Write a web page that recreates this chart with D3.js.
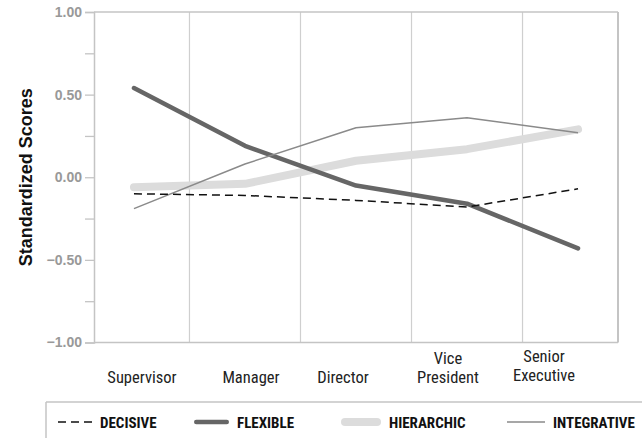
<!DOCTYPE html>
<html>
<head>
<meta charset="utf-8">
<script src="https://cdn.jsdelivr.net/npm/d3@7"></script>
<style>
  html, body { margin: 0; padding: 0; background: #fff; }
  svg { display: block; }
  .cat { font-family: "Liberation Sans Narrow", "Roboto Condensed", "DejaVu Sans Condensed", sans-serif; font-size: 16.5px; fill: #222; }
  .tick-label { font-family: "Liberation Sans", Arial, sans-serif; font-weight: bold; font-size: 14px; fill: #999; }
  .ytitle { font-family: "Liberation Sans", Arial, sans-serif; font-weight: bold; font-size: 18px; fill: #111; }
  .leg { font-family: "Liberation Sans Narrow", "Roboto Condensed", "DejaVu Sans Condensed", sans-serif; font-weight: bold; font-size: 15px; fill: #111; }
</style>
</head>
<body>
<svg id="chart" width="642" height="438"></svg>
<script>
// Career levels and standardized scores for each decision style
const categories = ["Supervisor", "Manager", "Director", "Vice President", "Senior Executive"];
const decisive    = [-0.10, -0.11, -0.14, -0.18, -0.07];
const flexible    = [ 0.54,  0.19, -0.05, -0.16, -0.43];
const hierarchic  = [-0.06, -0.04,  0.10,  0.17,  0.29];
const integrative = [-0.19,  0.08,  0.30,  0.36,  0.27];
const yTicks = [-1, -0.5, 0, 0.5, 1];
const yMinorTicks = [-0.75, -0.25, 0.25, 0.75];
const seriesNames = ["DECISIVE", "FLEXIBLE", "HIERARCHIC", "INTEGRATIVE"];

const svg = d3.select("#chart");
const plot = { left: 94, right: 618, top: 12, bottom: 342.5 };

const x = d3.scalePoint().domain(categories).range([plot.left, plot.right]).padding(0.36);
const y = d3.scaleLinear().domain([-1, 1]).range([plot.bottom, plot.top]);

const frameColor = "#c4c4c4";

// Vertical separators halfway between career levels
const step = x.step();
const seps = categories.slice(1).map(c => x(c) - step / 2);
svg.append("g").selectAll("line").data(seps).join("line")
  .attr("x1", d => d).attr("x2", d => d)
  .attr("y1", plot.top).attr("y2", plot.bottom)
  .attr("stroke", "#cfcfcf").attr("stroke-width", 1.2);

// Frame: top, bottom, right
svg.append("line").attr("x1", plot.left).attr("x2", plot.right).attr("y1", plot.top).attr("y2", plot.top)
  .attr("stroke", frameColor).attr("stroke-width", 1.5);
svg.append("line").attr("x1", plot.left).attr("x2", plot.right).attr("y1", plot.bottom).attr("y2", plot.bottom)
  .attr("stroke", frameColor).attr("stroke-width", 1.5);
svg.append("line").attr("x1", plot.right).attr("x2", plot.right).attr("y1", plot.top).attr("y2", plot.bottom)
  .attr("stroke", frameColor).attr("stroke-width", 2);

// Y axis with major and minor ticks
const fmt = v => (v < 0 ? "\u2212" : "") + Math.abs(v).toFixed(2);
const yAxis = d3.axisLeft(y).tickValues(yTicks).tickSize(9).tickPadding(3).tickFormat(fmt);
const gy = svg.append("g").attr("transform", `translate(${plot.left},0)`).call(yAxis);
gy.attr("font-size", null).attr("font-family", null);
gy.select(".domain").attr("stroke", frameColor).attr("stroke-width", 1.5);
gy.selectAll(".tick line").attr("stroke", frameColor).attr("stroke-width", 1.3);
gy.selectAll(".tick text").attr("class", "tick-label").attr("fill", null);
const gyMinor = svg.append("g").attr("transform", `translate(${plot.left},0)`)
  .call(d3.axisLeft(y).tickValues(yMinorTicks).tickSize(9).tickFormat(""));
gyMinor.select(".domain").remove();
gyMinor.selectAll(".tick line").attr("stroke", frameColor).attr("stroke-width", 1.3);

// Y axis title
svg.append("text").attr("class", "ytitle")
  .attr("transform", `translate(32,${(plot.top + plot.bottom) / 2}) rotate(-90)`)
  .attr("text-anchor", "middle").text("Standardized Scores");

// Category labels (two-line for longer titles)
const labelShift = { "Supervisor": 8, "Manager": 6, "Director": -13, "Vice President": -19, "Senior Executive": -34 };
const labelRaise = { "Senior Executive": 2 };
const lineGap = 19;
const cats = svg.append("g");
categories.forEach(c => {
  const words = c.split(" ");
  const cx = x(c) + (labelShift[c] || 0);
  const base = 383 - (labelRaise[c] || 0);
  if (words.length === 1) {
    cats.append("text").attr("class", "cat").attr("text-anchor", "middle")
      .attr("x", cx).attr("y", base).text(c);
  } else {
    const rows = [words[0], words.slice(1).join(" ")];
    rows.forEach((r, i) => {
      cats.append("text").attr("class", "cat").attr("text-anchor", "middle")
        .attr("x", cx).attr("y", base - (rows.length - 1 - i) * lineGap).text(r);
    });
  }
});

// Series styles
const styles = {
  DECISIVE:    { color: "#111", width: 1.5, dash: "8,5", cap: "butt" },
  FLEXIBLE:    { color: "#666", width: 4.5, dash: null, cap: "round" },
  HIERARCHIC:  { color: "#dcdcdc", width: 8, dash: null, cap: "round" },
  INTEGRATIVE: { color: "#8a8a8a", width: 1.5, dash: null, cap: "butt" }
};
const seriesData = { DECISIVE: decisive, FLEXIBLE: flexible, HIERARCHIC: hierarchic, INTEGRATIVE: integrative };
const drawOrder = ["HIERARCHIC", "FLEXIBLE", "INTEGRATIVE", "DECISIVE"];

const line = d3.line().x((d, i) => x(categories[i])).y(d => y(d));
drawOrder.forEach(name => {
  const s = styles[name];
  svg.append("path").datum(seriesData[name])
    .attr("d", line)
    .attr("fill", "none")
    .attr("stroke", s.color)
    .attr("stroke-width", s.width)
    .attr("stroke-linecap", s.cap)
    .attr("stroke-linejoin", "round")
    .attr("stroke-dasharray", s.dash);
});

// Legend box edges
svg.append("line").attr("x1", 46).attr("x2", 642).attr("y1", 402).attr("y2", 402)
  .attr("stroke", frameColor).attr("stroke-width", 1.5);
svg.append("line").attr("x1", 46).attr("x2", 46).attr("y1", 402).attr("y2", 438)
  .attr("stroke", frameColor).attr("stroke-width", 1.5);

// Legend entries
const legX = { DECISIVE: 58, FLEXIBLE: 194, HIERARCHIC: 341, INTEGRATIVE: 507 };
const legLen = { DECISIVE: 34, FLEXIBLE: 35, HIERARCHIC: 40, INTEGRATIVE: 38 };
const legY = 422;
const leg = svg.append("g");
seriesNames.forEach(name => {
  const s = styles[name];
  const x0 = legX[name];
  const capPad = s.cap === "round" ? s.width / 2 : 0;
  leg.append("line")
    .attr("x1", x0 + capPad).attr("x2", x0 + legLen[name] - capPad)
    .attr("y1", legY).attr("y2", legY)
    .attr("stroke", s.color).attr("stroke-width", s.width)
    .attr("stroke-linecap", s.cap).attr("stroke-dasharray", s.dash);
  leg.append("text").attr("class", "leg")
    .attr("x", x0 + legLen[name] + 8).attr("y", legY + 5.5).text(name);
});
</script>
</body>
</html>
